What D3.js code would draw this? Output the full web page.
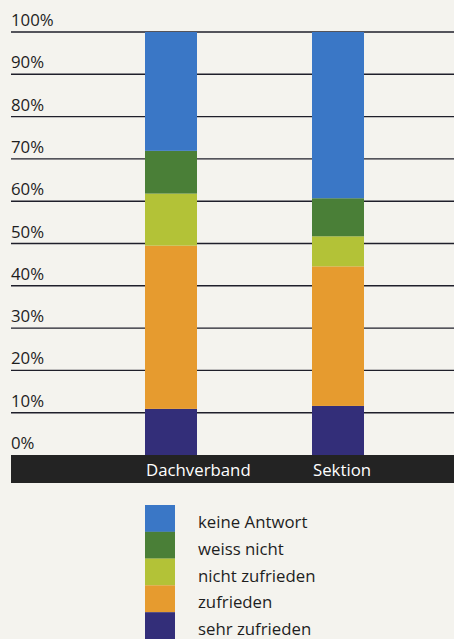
<!DOCTYPE html>
<html><head><meta charset="utf-8">
<script src="https://cdn.jsdelivr.net/npm/d3@7/dist/d3.min.js"></script>
<style>
html,body{margin:0;padding:0;background:#f4f3ee;}
svg{display:block;}
text{font-family:"Open Sans","Noto Sans",sans-serif;}
</style></head>
<body><svg id="c" width="454" height="639"></svg>
<script>
const categories = ["Dachverband", "Sektion"];
const seriesNames = ["sehr zufrieden", "zufrieden", "nicht zufrieden", "weiss nicht", "keine Antwort"];
const sehrZufrieden = [10.9, 11.6];
const zufrieden = [38.6, 33.0];
const nichtZufrieden = [12.3, 7.1];
const weissNicht = [10.1, 9.0];
const keineAntwort = [28.1, 39.3];
const tickValues = [0, 10, 20, 30, 40, 50, 60, 70, 80, 90, 100];
const colors = ["#332e79", "#e69b2f", "#b3c237", "#4a7f37", "#3a77c6"];

const seriesValues = [sehrZufrieden, zufrieden, nichtZufrieden, weissNicht, keineAntwort];
const rows = categories.map((c, i) => {
  const r = {cat: c};
  seriesNames.forEach((s, j) => r[s] = seriesValues[j][i]);
  return r;
});
const stack = d3.stack().keys(seriesNames)(rows);

const svg = d3.select("#c");
const left = 11, right = 454;
const y = d3.scaleLinear().domain([0, 100]).range([455, 32]);
const x = d3.scaleOrdinal().domain(categories).range([145, 312]);
const barW = 52;
const fs = 16.8;

// gridlines and tick labels
const g = svg.append("g");
g.selectAll("line.grid").data(tickValues.filter(t => t > 0)).join("line")
  .attr("x1", left).attr("x2", right)
  .attr("y1", d => y(d)).attr("y2", d => y(d))
  .attr("stroke", "#1f1f2a").attr("stroke-width", 1.4);
g.selectAll("text.tick").data(tickValues).join("text")
  .attr("x", left).attr("y", d => y(d) - 6)
  .attr("font-size", fs).attr("fill", "#1e1e1e")
  .text(d => d + "%");

// bars
svg.append("g").selectAll("g").data(stack).join("g")
  .attr("fill", (d, i) => colors[i])
  .selectAll("rect").data(d => d).join("rect")
  .attr("x", d => x(d.data.cat)).attr("width", barW)
  .attr("y", d => y(d[1])).attr("height", d => y(d[0]) - y(d[1]));

// black axis band
svg.append("rect").attr("x", left).attr("y", 455).attr("width", right - left).attr("height", 28).attr("fill", "#232323");
svg.append("g").selectAll("text").data(categories).join("text")
  .attr("x", d => x(d) + 1).attr("y", 476)
  .attr("font-size", fs).attr("fill", "#ffffff")
  .text(d => d);

// legend
const legendOrder = seriesNames.map((s, i) => ({name: s, color: colors[i]})).reverse();
const lg = svg.append("g");
lg.selectAll("rect").data(legendOrder).join("rect")
  .attr("x", 145).attr("y", (d, i) => 505 + i * 26.8).attr("width", 30).attr("height", 26.9)
  .attr("fill", d => d.color);
lg.selectAll("text").data(legendOrder).join("text")
  .attr("x", 198).attr("y", (d, i) => 528 + i * 26.8)
  .attr("font-size", fs).attr("fill", "#1e1e1e")
  .text(d => d.name);
</script></body></html>
